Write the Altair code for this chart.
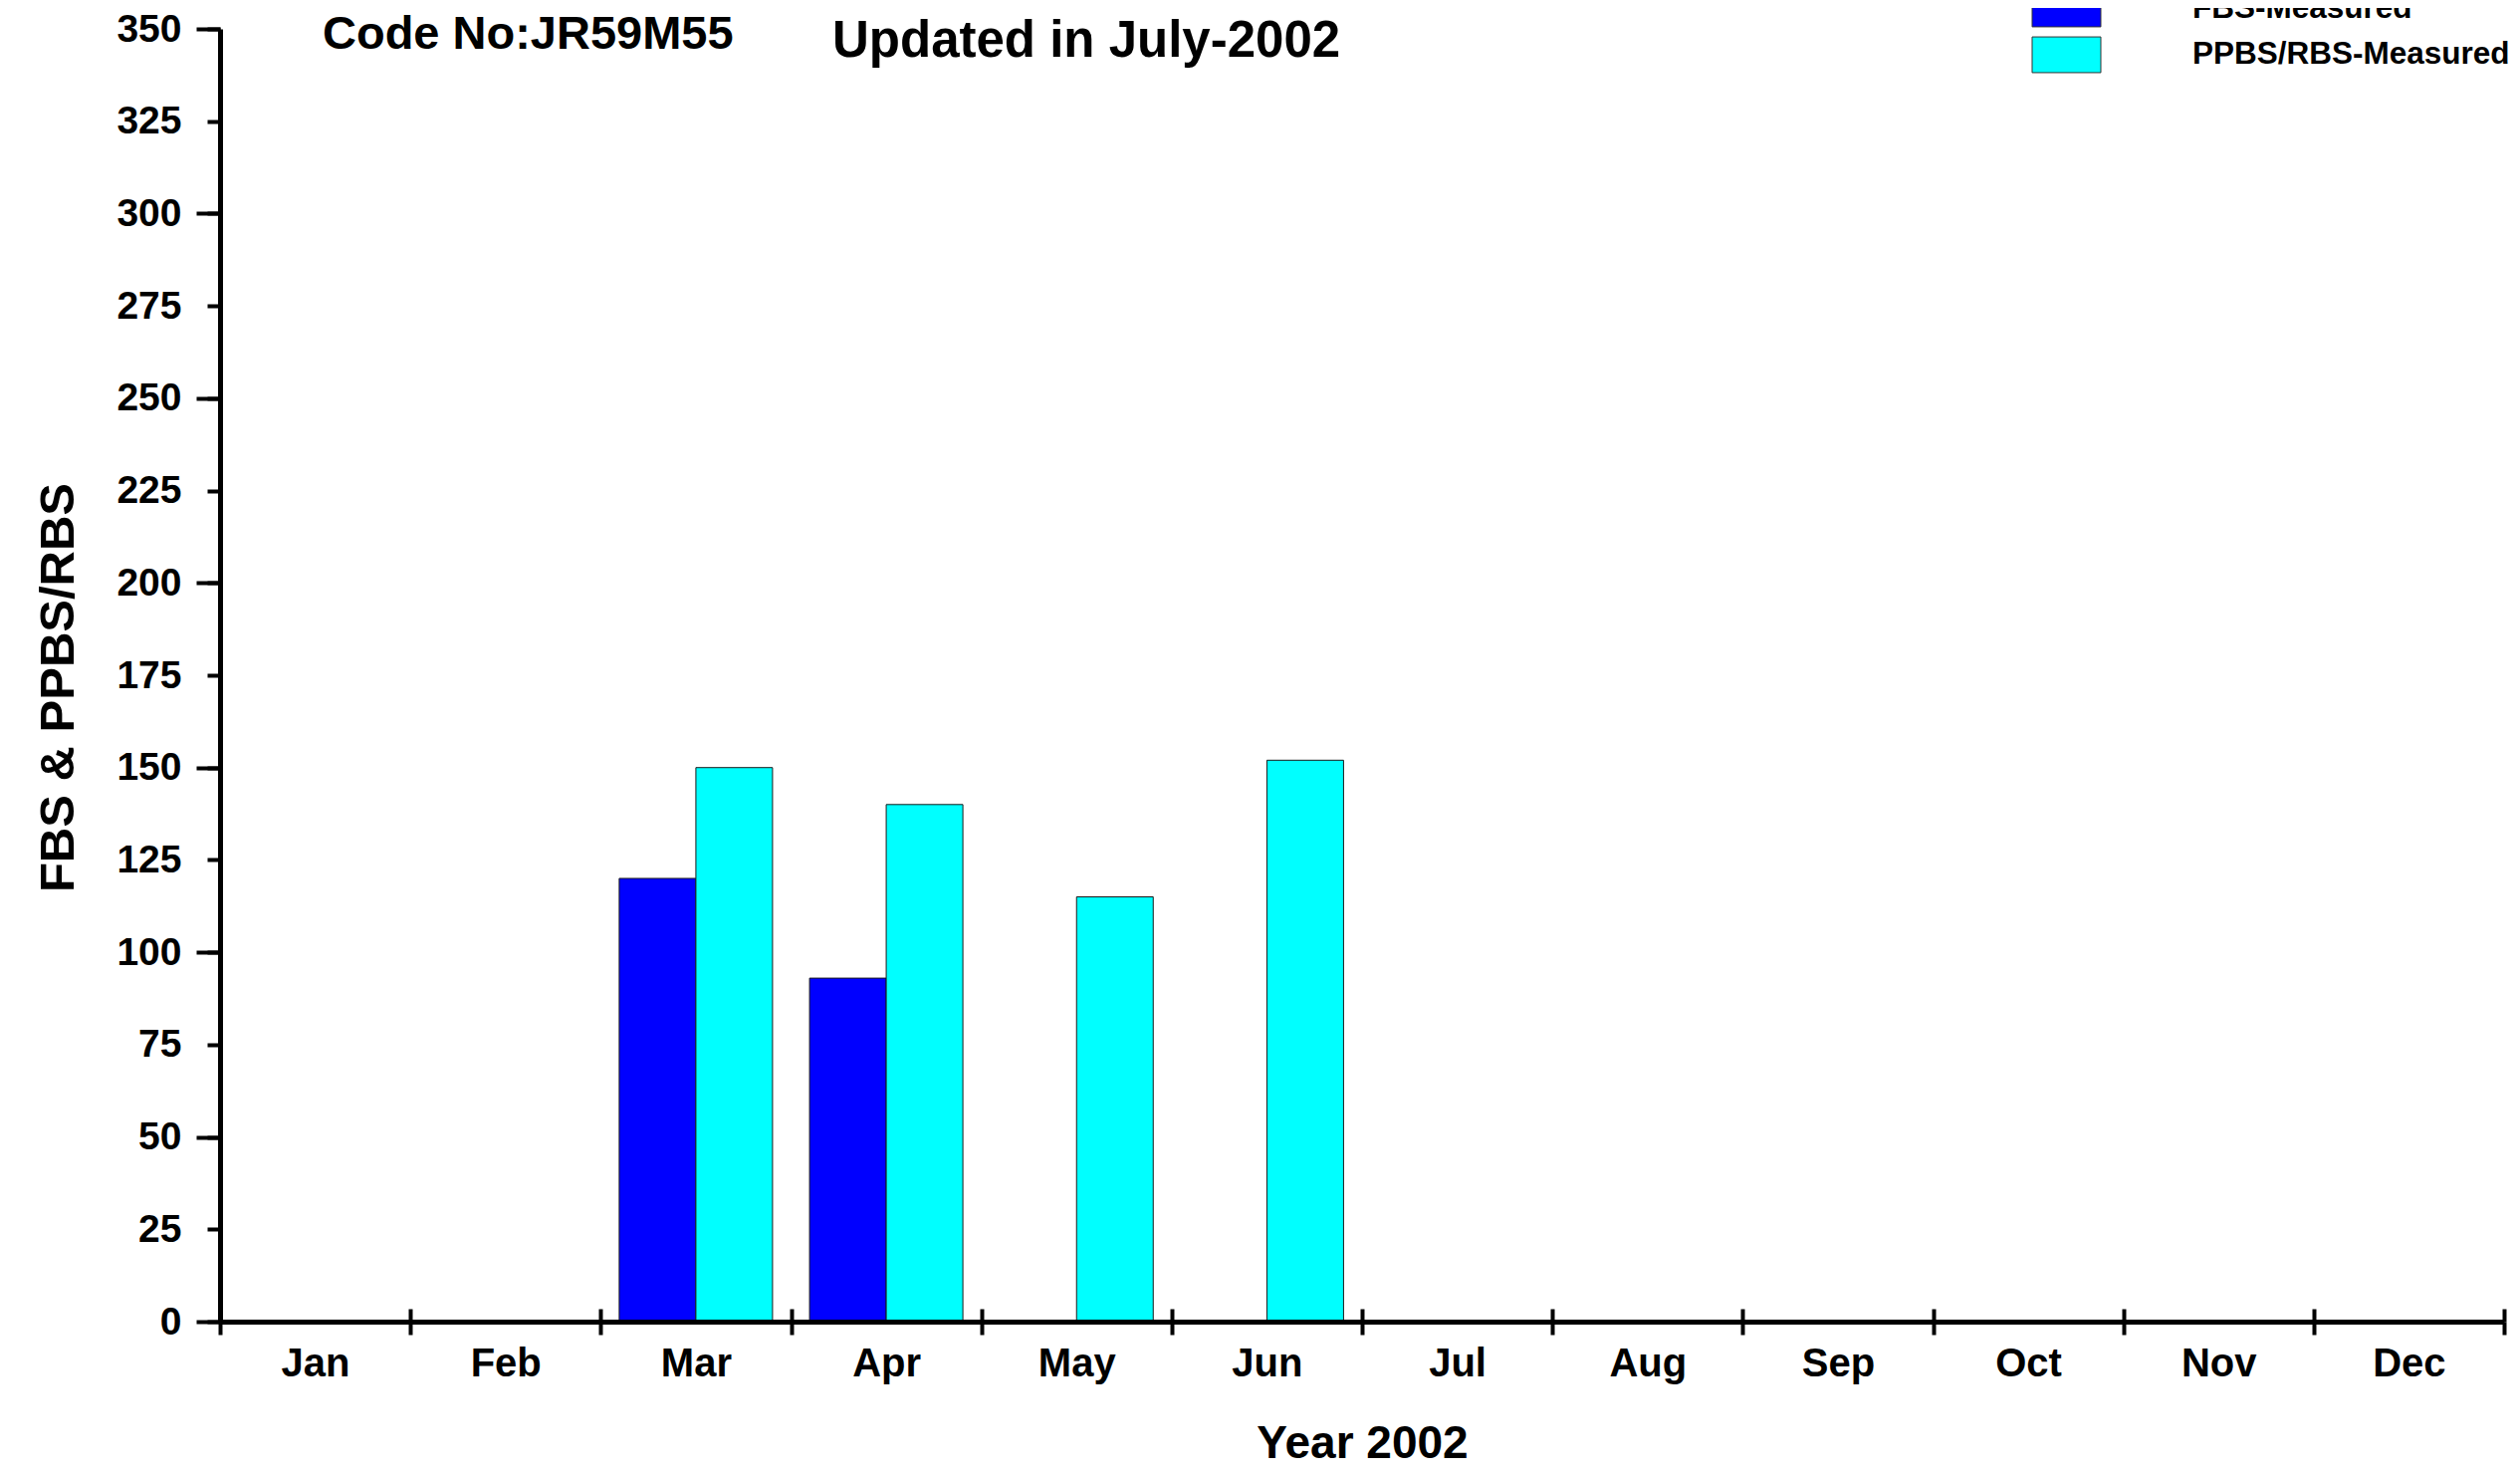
import altair as alt
import pandas as pd

# ---- data ----
months = ["Jan", "Feb", "Mar", "Apr", "May", "Jun", "Jul", "Aug", "Sep", "Oct", "Nov", "Dec"]
series_names = ["FBS-Measured", "PPBS/RBS-Measured"]
series_colors = ["#0000FF", "#00FFFF"]
fbs_months = ["Mar", "Apr"]
fbs_values = [120, 93]
ppbs_months = ["Mar", "Apr", "May", "Jun"]
ppbs_values = [150, 140, 115, 152]
y_label_values = list(range(0, 351, 25))
y_major_values = list(range(0, 351, 50))
code_text = "Code No:JR59M55"
updated_text = "Updated in July-2002"
x_title = "Year 2002"
y_title = "FBS & PPBS/RBS"

rows = [{"month": m, "value": v, "series": series_names[0]} for m, v in zip(fbs_months, fbs_values)]
rows += [{"month": m, "value": v, "series": series_names[1]} for m, v in zip(ppbs_months, ppbs_values)]
df = pd.DataFrame(rows)

FONT = "Liberation Sans"
W, H = 2294, 1298

x_scale = alt.Scale(domain=months, paddingInner=0, paddingOuter=0)
y_scale = alt.Scale(domain=[0, 350], nice=False, zero=True)

bars = alt.Chart(df).mark_bar(stroke="#1a1a1a", strokeWidth=1).encode(
    x=alt.X("month:N", scale=x_scale, axis=alt.Axis(
        orient="bottom", title=x_title, titleFont=FONT, titleFontSize=46, titleFontWeight="bold",
        titleColor="black", titleY=136, titleBaseline="alphabetic",
        labelFont=FONT, labelFontSize=40, labelFontWeight="bold", labelColor="black", labelAngle=0,
        labelBaseline="top", labelPadding=9,
        ticks=True, tickBand="extent", tickSize=13, tickWidth=4, tickColor="black",
        domain=True, domainWidth=5, domainColor="black", grid=False, zindex=1)),
    xOffset=alt.XOffset("series:N", scale=alt.Scale(domain=series_names, paddingInner=0, paddingOuter=0.2413)),
    y=alt.Y("value:Q", scale=y_scale, axis=alt.Axis(
        orient="left", values=y_label_values, format="d",
        title=y_title, titleFont=FONT, titleFontSize=49, titleFontWeight="bold", titleColor="black",
        titleX=-163, titleY=661, titleAlign="center", titleBaseline="middle",
        labelFont=FONT, labelFontSize=39, labelFontWeight="bold", labelColor="black", labelPadding=26,
        tickSize=13, tickWidth=4, tickColor="black",
        domain=True, domainWidth=5, domainColor="black", grid=False, zindex=1)),
    color=alt.Color("series:N", scale=alt.Scale(domain=series_names, range=series_colors), legend=alt.Legend(
        title=None, orient="none", legendX=1831, legendY=-43.5, direction="vertical",
        symbolType="M-1.5,-0.78L1.5,-0.78L1.5,0.78L-1.5,0.78Z", symbolSize=2116,
        symbolStrokeColor="#333333", symbolStrokeWidth=1,
        labelFont=FONT, labelFontSize=31.5, labelFontWeight="bold", labelColor="black",
        labelOffset=103, labelLimit=500, rowPadding=2, padding=0)),
)

tick_layer = alt.Chart(df).mark_point(opacity=0).encode(
    x=alt.X("month:N", scale=x_scale, axis=alt.Axis(
        orient="bottom", title=None, labels=False, domain=False, grid=False, offset=-13,
        ticks=True, tickBand="extent", tickSize=13, tickWidth=4, tickColor="black", zindex=1)),
    y=alt.Y("value:Q", scale=y_scale, axis=alt.Axis(
        orient="left", title=None, labels=False, domain=False, grid=False, values=y_major_values,
        ticks=True, tickSize=24, tickWidth=4, tickColor="black", zindex=1)),
)

code_layer = alt.Chart(pd.DataFrame({"t": [code_text]})).mark_text(
    align="left", baseline="alphabetic", font=FONT, fontSize=47, fontWeight="bold", color="black"
).encode(text="t:N", x=alt.value(103), y=alt.value(20))

updated_layer = alt.Chart(pd.DataFrame({"t": [updated_text]})).mark_text(
    align="left", baseline="alphabetic", font=FONT, fontSize=51, fontWeight="bold", color="black"
).encode(text="t:N", x=alt.value(615), y=alt.value(28))

chart = alt.layer(bars, tick_layer, code_layer, updated_layer).resolve_scale(
    x="shared", y="shared"
).resolve_axis(
    x="independent", y="independent"
).properties(
    width=W, height=H,
    padding={"left": 213, "top": 21, "right": 8, "bottom": 151},
    autosize=alt.AutoSizeParams(type="none"),
    background="white",
).configure_view(stroke=None)

chart.save("out.html", embed_options={"renderer": "svg", "actions": False})
